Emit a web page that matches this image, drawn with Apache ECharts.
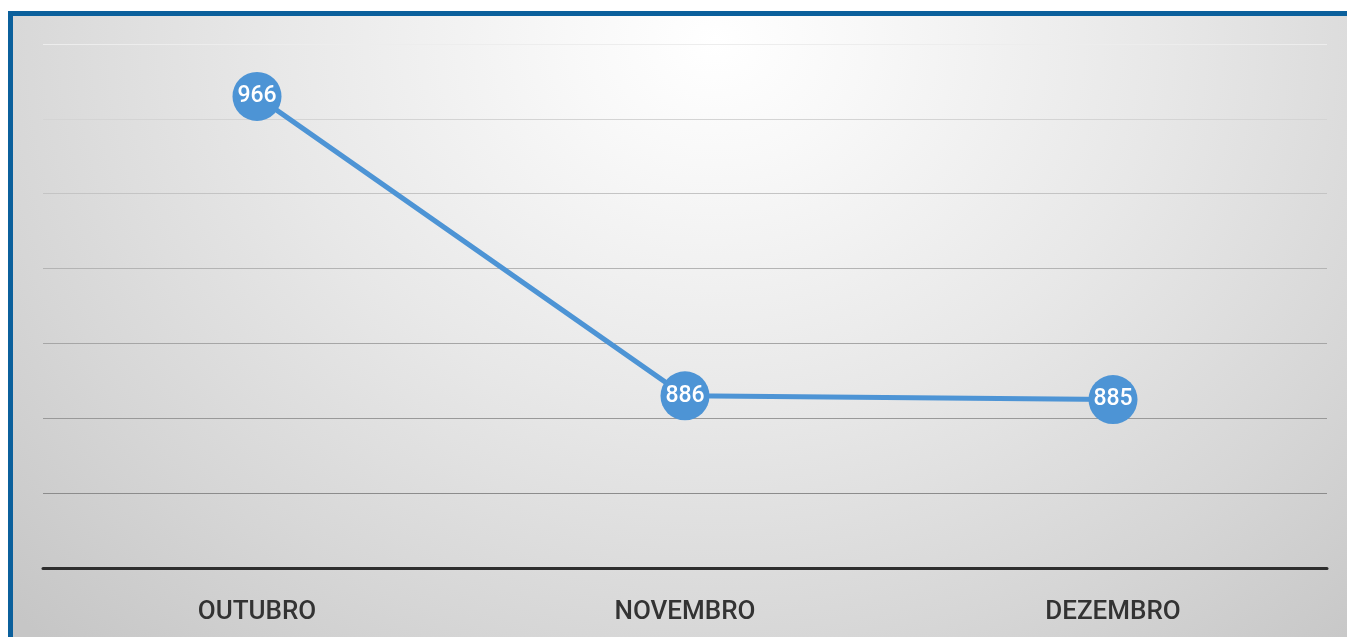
<!DOCTYPE html>
<html>
<head>
<meta charset="utf-8">
<script src="https://cdn.jsdelivr.net/npm/echarts@6/dist/echarts.min.js"></script>
<style>
    html, body { margin: 0; padding: 0; background: #ffffff; overflow: hidden; }
    #frame {
        position: absolute; left: 8px; top: 11px;
        width: 1350px; height: 640px;
        border-left: 5px solid #0b609c; border-top: 5px solid #0b609c;
        background: radial-gradient(ellipse 980px 820px at 52% 4%, #ffffff 0%, #f8f8f8 15%, #e8e8e8 45%, #d6d6d6 75%, #c6c6c6 100%);
    }
    #main { position: absolute; left: 0; top: 0; width: 1334px; height: 621px; }
</style>
</head>
<body>
<div id="frame"><div id="main"></div></div>
<script>
    // 月份
    var months = ['OUTUBRO', 'NOVEMBRO', 'DEZEMBRO'];
    // 数值
    var values = [966, 886, 885];

    var myChart = echarts.init(document.getElementById('main'));

    var option = {
        backgroundColor: 'transparent',
        animation: false,
        grid: {
            left: 30,
            right: 20,
            top: 28,
            bottom: 69
        },
        xAxis: {
            type: 'category',
            data: months,
            boundaryGap: true,
            axisLine: { lineStyle: { color: '#2e2e2e', width: 3 } },
            axisTick: { show: false },
            axisLabel: {
                color: '#333333',
                fontFamily: 'Roboto',
                fontWeight: 500,
                fontSize: 26,
                margin: 31
            }
        },
        // y轴不显示刻度文字
        yAxis: {
            type: 'value',
            min: 840,
            max: 980,
            interval: 20,
            axisLine: { show: false },
            axisTick: { show: false },
            axisLabel: { show: false },
            splitLine: {
                lineStyle: {
                    width: 1,
                    color: ['#a0a0a0', '#8c8c8c', '#999999', '#a6a6a6', '#b4b4b4', '#c4c4c4', '#d4d4d4', '#ededed']
                }
            }
        },
        series: [{
            type: 'line',
            data: values,
            symbol: 'circle',
            symbolSize: 49,
            itemStyle: { color: '#4d94d5' },
            lineStyle: { color: '#4d94d5', width: 5 },
            label: {
                show: true,
                position: 'inside',
                color: '#ffffff',
                fontFamily: 'Roboto',
                fontWeight: 500,
                fontSize: 23
            }
        }]
    };

    myChart.setOption(option);
</script>
</body>
</html>
